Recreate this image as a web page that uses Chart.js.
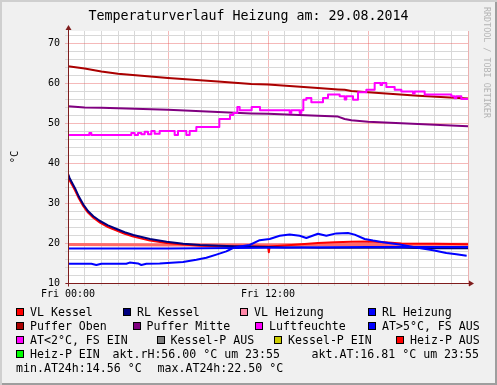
<!DOCTYPE html>
<html>
<head>
<meta charset="utf-8">
<script src="https://cdn.jsdelivr.net/npm/chart.js@4.4.0/dist/chart.umd.min.js"></script>
<style>
  body { margin: 0; background: #fff; }
  #graph {
    position: relative; width: 497px; height: 385px; background: #f0f0f0;
    box-shadow: inset 2px 2px 0 #cfcfcf, inset -2px -2px 0 #9e9e9e;
    font-family: 'DejaVu Sans Mono', monospace; color: #000; overflow: hidden;
  }
  #plotbg { position: absolute; left: 68px; top: 31px; width: 400px; height: 252px; background: #fff; }
  #c { position: absolute; left: 0; top: 0; }
  .title { position: absolute; left: 0; top: 8px; width: 497px; text-align: center; font-size: 13.3px; line-height: 16px; }
  .ylabel { position: absolute; left: 14px; top: 157px; font-size: 10.5px; transform: translate(-50%, -50%) rotate(-90deg); white-space: nowrap; }
  .credit { position: absolute; left: 482px; top: 7px; font-size: 8.4px; color: #b4b4b4; writing-mode: vertical-rl; white-space: nowrap; }
  .item { position: absolute; font-size: 11.6px; line-height: 14px; white-space: pre; }
  .sw { position: absolute; width: 6px; height: 6px; border: 1px solid #000; }
</style>
</head>
<body>
<div id="graph">
  <div id="plotbg"></div>
  <canvas id="c" width="497" height="385"></canvas>
  <div class="title">Temperaturverlauf Heizung am: 29.08.2014</div>
  <div class="ylabel">°C</div>
  <div class="credit">RRDTOOL / TOBI OETIKER</div>
  <div id="legend"></div>
</div>
<script>
// x axis in hours since Fri 00:00
const xTickHours = [0, 12];
const xTickLabels = ['Fri 00:00', 'Fri 12:00'];

const kesselHours = [0, 0.1, 0.25, 0.42, 0.65, 0.92, 1.2, 1.52, 1.92, 2.4, 2.92, 3.4, 3.92, 4.92, 5.92, 6.92, 7.92, 9.92, 12, 12.05, 12.1, 13, 14, 15, 16, 17, 18, 19, 20, 22, 24];
const vlKessel = [37.0, 35.6, 34.5, 33.2, 31.2, 29.2, 27.6, 26.3, 25.1, 24.0, 23.1, 22.3, 21.6, 20.6, 20.0, 19.6, 19.3, 19.1, 19.1, 17.7, 19.1, 19.4, 19.7, 20.0, 20.2, 20.3, 20.4, 20.2, 19.9, 19.8, 19.7];
const rlKessel = [37.3, 36.2, 35.0, 33.7, 31.6, 29.6, 28.0, 26.7, 25.5, 24.4, 23.5, 22.7, 22.0, 21.0, 20.3, 19.8, 19.5, 19.2, 19.0, 19.0, 19.0, 18.9, 18.9, 18.8, 18.8, 18.8, 18.8, 18.8, 18.8, 18.7, 18.7];

const heizHours = [0, 6, 12, 18, 24];
const vlHeizung = [19.6, 19.5, 19.5, 19.6, 19.7];
const rlHeizung = [18.6, 18.6, 18.8, 19.0, 19.0];

const pufferHours = [0, 1, 2, 3, 6, 9, 11, 12, 15, 16.2, 16.6, 17, 18, 21, 24];
const pufferOben = [64.2, 63.6, 62.9, 62.3, 61.25, 60.4, 59.75, 59.6, 58.75, 58.4, 58.3, 58.0, 57.7, 56.8, 56.1];
const pufferMitte = [54.2, 53.9, 53.8, 53.7, 53.3, 52.75, 52.4, 52.3, 51.8, 51.6, 51.0, 50.7, 50.3, 49.75, 49.2];

const luftHours = [0, 1.28, 1.4, 3.8, 4.0, 4.2, 4.4, 4.6, 4.8, 5.0, 5.2, 5.5, 6.4, 6.6, 7.1, 7.3, 7.7, 9.08, 9.72, 9.92, 10.16, 10.3, 11.02, 11.52, 13.3, 13.4, 13.9, 14.0, 14.12, 14.3, 14.6, 15.3, 15.6, 16.3, 16.6, 16.7, 17.1, 17.4, 17.9, 18.4, 18.75, 18.85, 19.1, 19.6, 20.0, 20.7, 20.8, 21.4, 23.0, 23.2, 23.3, 23.6, 24];
const luftfeuchte = [47, 47.5, 47, 47.5, 47, 47.5, 47.2, 47.8, 47.2, 48, 47.3, 48, 47, 48, 47, 48, 49, 51, 52, 52.5, 54, 53.2, 54, 53.2, 52.5, 53.2, 52.5, 53.2, 55.8, 56.25, 55.2, 56.25, 57.1, 56.7, 55.9, 56.7, 55.8, 57.7, 58.3, 60, 59.5, 60, 59, 58.3, 57.9, 57.4, 57.9, 57.1, 56.7, 56.2, 56.7, 56, 56];

const atHours = [0, 1.4, 1.7, 2.0, 3.5, 3.7, 4.2, 4.4, 4.7, 5.5, 6.9, 7.7, 8.3, 8.9, 9.5, 9.9, 10.3, 10.9, 11.5, 12.1, 12.7, 13.3, 13.9, 14.3, 15.0, 15.5, 16.1, 16.8, 17.2, 17.8, 18.3, 18.9, 19.9, 20.9, 21.9, 22.7, 23.3, 23.92];
const aussenTemp = [14.8, 14.8, 14.5, 14.8, 14.8, 15.1, 14.9, 14.5, 14.8, 14.9, 15.25, 15.8, 16.3, 17.1, 17.9, 18.75, 19.1, 19.5, 20.7, 21.0, 21.8, 22.1, 21.8, 21.25, 22.3, 21.8, 22.4, 22.5, 22.1, 21.0, 20.6, 20.2, 19.6, 18.9, 18.2, 17.5, 17.2, 16.8];

const legendLabels = [
  ['VL Kessel', 'RL Kessel', 'VL Heizung', 'RL Heizung'],
  ['Puffer Oben', 'Puffer Mitte', 'Luftfeuchte', 'AT>5°C, FS AUS'],
  ['AT<2°C, FS EIN', 'Kessel-P AUS', 'Kessel-P EIN', 'Heiz-P AUS'],
  ['Heiz-P EIN']
];
const legendColors = [
  ['#ff0000', '#000080', '#ff88a8', '#0000ff'],
  ['#aa0000', '#800080', '#ff00ff', '#0000ff'],
  ['#ff00ff', '#808080', '#cccc00', '#ff0000'],
  ['#00ff00']
];
const infoLines = [
  ['akt.rH:56.00 °C um 23:55', 'akt.AT:16.81 °C um 23:55'],
  ['min.AT24h:14.56 °C', 'max.AT24h:22.50 °C']
];

// legend layout (pixel positions of the rrdtool legend)
const legendRowTop = [305, 319, 333, 347, 361];
const legendColX = [
  [16, 123, 240, 368],
  [16, 132.5, 255, 368],
  [16, 156.5, 274, 396],
  [16]
];
const infoX = [[112.5, 311.5], [16, 157.5]];

const legend = document.getElementById('legend');
legendLabels.forEach((row, r) => {
  row.forEach((label, i) => {
    const sw = document.createElement('div');
    sw.className = 'sw';
    sw.style.left = legendColX[r][i] + 'px';
    sw.style.top = (legendRowTop[r] + 3) + 'px';
    sw.style.background = legendColors[r][i];
    legend.appendChild(sw);
    const t = document.createElement('div');
    t.className = 'item';
    t.style.left = (legendColX[r][i] + 14) + 'px';
    t.style.top = legendRowTop[r] + 'px';
    t.textContent = label;
    legend.appendChild(t);
  });
});
infoLines.forEach((row, r) => {
  row.forEach((text, i) => {
    const t = document.createElement('div');
    t.className = 'item';
    t.style.left = infoX[r][i] + 'px';
    t.style.top = legendRowTop[3 + r] + 'px';
    t.textContent = text;
    legend.appendChild(t);
  });
});

const pts = (xs, ys) => xs.map((x, i) => ({ x, y: ys[i] }));

const series = [
  { label: 'VL Heizung', data: pts(heizHours, vlHeizung), color: '#ff6a6a', width: 3 },
  { label: 'VL Kessel', data: pts(kesselHours, vlKessel), color: '#ff0000' },
  { label: 'RL Kessel', data: pts(kesselHours, rlKessel), color: '#000080' },
  { label: 'RL Heizung', data: pts(heizHours, rlHeizung), color: '#0000ff' },
  { label: 'Puffer Oben', data: pts(pufferHours, pufferOben), color: '#aa0000' },
  { label: 'Puffer Mitte', data: pts(pufferHours, pufferMitte), color: '#800080' },
  { label: 'Luftfeuchte', data: pts(luftHours, luftfeuchte), color: '#ff00ff', stepped: true },
  { label: 'AT>5°C, FS AUS', data: pts(atHours, aussenTemp), color: '#0000ff' }
];

const datasets = series.map((s, i) => ({
  label: s.label,
  data: s.data,
  borderColor: s.color,
  borderWidth: s.width || 2,
  stepped: s.stepped || false,
  pointRadius: 0,
  fill: false,
  order: series.length - i
}));

const MINOR = '#d8d8d8';
const MAJOR = 'rgba(230, 80, 80, 0.4)';
const AXIS = '#7f1d1d';

// axis lines with arrow heads, drawn over the data like rrdtool does
const axes = {
  id: 'axes',
  afterDatasetsDraw(chart) {
    const { ctx, chartArea: a } = chart;
    const l = Math.round(a.left) + 0.5, b = Math.round(a.bottom) + 0.5;
    ctx.save();
    ctx.strokeStyle = AXIS;
    ctx.fillStyle = AXIS;
    ctx.lineWidth = 1;
    ctx.beginPath();
    ctx.moveTo(l, b + 3); ctx.lineTo(l, a.top - 3);
    ctx.moveTo(l - 3, b); ctx.lineTo(a.right + 3, b);
    ctx.stroke();
    ctx.beginPath();
    ctx.moveTo(l - 3, a.top - 1); ctx.lineTo(l + 3, a.top - 1); ctx.lineTo(l, a.top - 6); ctx.closePath();
    ctx.fill();
    ctx.beginPath();
    ctx.moveTo(a.right + 1, b - 3); ctx.lineTo(a.right + 1, b + 3); ctx.lineTo(a.right + 6, b); ctx.closePath();
    ctx.fill();
    ctx.restore();
  }
};

Chart.defaults.font.family = "'DejaVu Sans Mono', monospace";

const gridColor = major => c => (c.tick && c.tick.value % major === 0) ? MAJOR : MINOR;

new Chart(document.getElementById('c'), {
  type: 'line',
  data: { datasets },
  options: {
    responsive: false,
    animation: false,
    devicePixelRatio: 1,
    layout: { padding: { left: 8, top: 31, right: 29, bottom: 72 } },
    plugins: { legend: { display: false }, tooltip: { enabled: false } },
    elements: { line: { tension: 0, borderJoinStyle: 'round' } },
    scales: {
      x: {
        type: 'linear', min: 0, max: 24,
        afterFit: s => { s.height = 30; },
        border: { display: false },
        grid: { color: gridColor(6), tickLength: 3 },
        ticks: {
          stepSize: 1, autoSkip: false, maxRotation: 0, minRotation: 0, padding: 2,
          color: '#000', font: { size: 10 },
          callback: v => { const k = xTickHours.indexOf(v); return k >= 0 ? xTickLabels[k] : ''; }
        }
      },
      y: {
        type: 'linear', min: 10, max: 73,
        afterFit: s => { s.width = 60; },
        border: { display: false },
        grid: { color: gridColor(10), tickLength: 3 },
        ticks: {
          stepSize: 2, autoSkip: false, includeBounds: false, padding: 5,
          color: '#000', font: { size: 10 },
          callback: v => v % 10 === 0 ? String(v) : ''
        }
      }
    }
  },
  plugins: [axes]
});
</script>
</body>
</html>
